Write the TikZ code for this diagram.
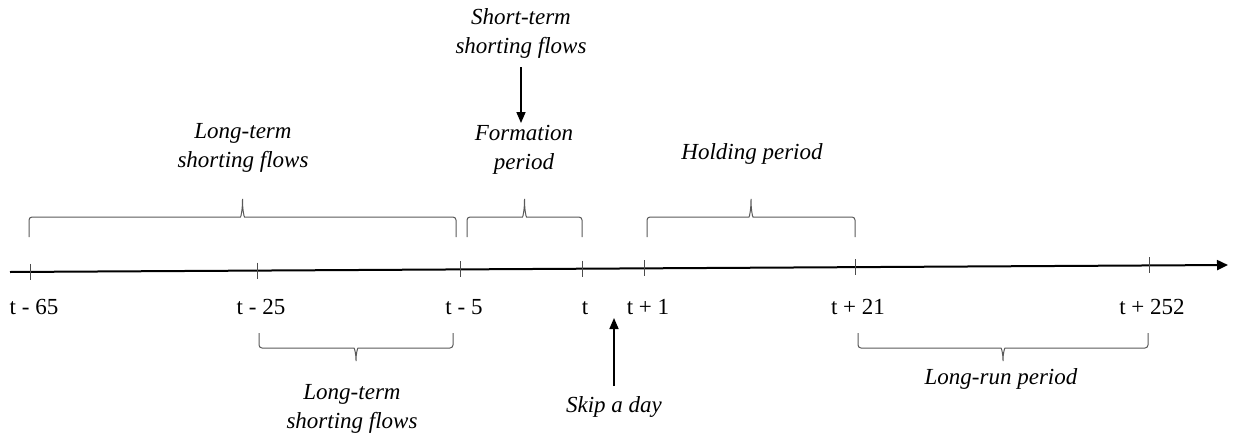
\documentclass[tikz,border=0pt]{standalone}
\usepackage{fontspec}
\setmainfont{Liberation Serif}
\usetikzlibrary{positioning,arrows.meta,calc}

% curly brace: left x, right x, y of the ends, hook height (negative = points up)
\newcommand{\tbrace}[4]{%
  \pgfmathsetmacro{\bm}{(#1+#2)/2}%
  \draw[brc] ({#1},{#3}) -- ({#1},{#3+(#4)}) -- ({\bm-5},{#3+(#4)})
    .. controls ({\bm-1.5},{#3+(#4)}) and ({\bm},{#3+1.4*(#4)}) .. ({\bm},{#3+2*(#4)})
    .. controls ({\bm},{#3+1.4*(#4)}) and ({\bm+1.5},{#3+(#4)}) .. ({\bm+5},{#3+(#4)})
    -- ({#2},{#3+(#4)}) -- ({#2},{#3});
}

\begin{document}
\begin{tikzpicture}[
  x=0.5pt, y=-0.5pt,
  every node/.style={font=\fontsize{11.5}{14.5}\selectfont, inner sep=0pt},
  tk/.style={draw=black!70, line width=0.5pt},
  it/.style={font=\fontsize{11.5}{14.5}\selectfont\itshape, align=center},
  brc/.style={draw=black!65, line width=0.5pt, rounded corners=1.5pt},
  ar/.style={-{Triangle[length=5.5pt,width=4.5pt]}, line width=0.8pt},
]
\useasboundingbox (0,0) rectangle (1233,434);

% time axis
\coordinate (start) at (10,272);
\coordinate (end)   at (1228,265);
\draw[line width=1pt, -{Triangle[length=5.5pt,width=5pt]}] (start) -- (end);

% ticks and dates
\foreach \x/\n/\txt in {31/m65/t - 65, 258/m25/t - 25, 461/m5/t - 5, 582/t0/t,
                        645/p1/t + 1, 855/p21/t + 21, 1149/p252/t + 252} {
  \coordinate (\n) at ($(start)!{(\x-10)/1218}!(end)$);
  \draw[tk] ($(\n)+(0,-8)$) -- ($(\n)+(0,8)$);
  \node[anchor=base] (lab\n) at ({\x+3},314) {\txt};
}

% braces above the axis
\tbrace{29}{456}{237}{-20}
\tbrace{467}{582}{237}{-20}
\tbrace{647}{855}{237}{-20}
% braces below the axis
\tbrace{259}{453}{333}{15}
\tbrace{858}{1148}{333}{15}

% period labels
\node[it] (ltup) at (243,148)  {Long-term\\shorting flows};
\node[it] (stf)  at (521,33)   {Short-term\\shorting flows};
\node[it] (frm)  at (524,150)  {Formation\\period};
\node[it] (hld)  at (752,154)  {Holding period};
\node[it] (ltdn) at (352,409)  {Long-term\\shorting flows};
\node[it] (skp)  at (614,407)  {Skip a day};
\node[it] (lrp)  at (1001,379) {Long-run period};

% arrows
\coordinate (skipend) at (614,318);
\draw[ar, shorten <=4.5pt, shorten >=1pt] (stf.south) -- (stf.south |- frm.north);
\draw[ar, shorten <=5pt] (skp.north) -- (skipend);
\end{tikzpicture}
\end{document}
